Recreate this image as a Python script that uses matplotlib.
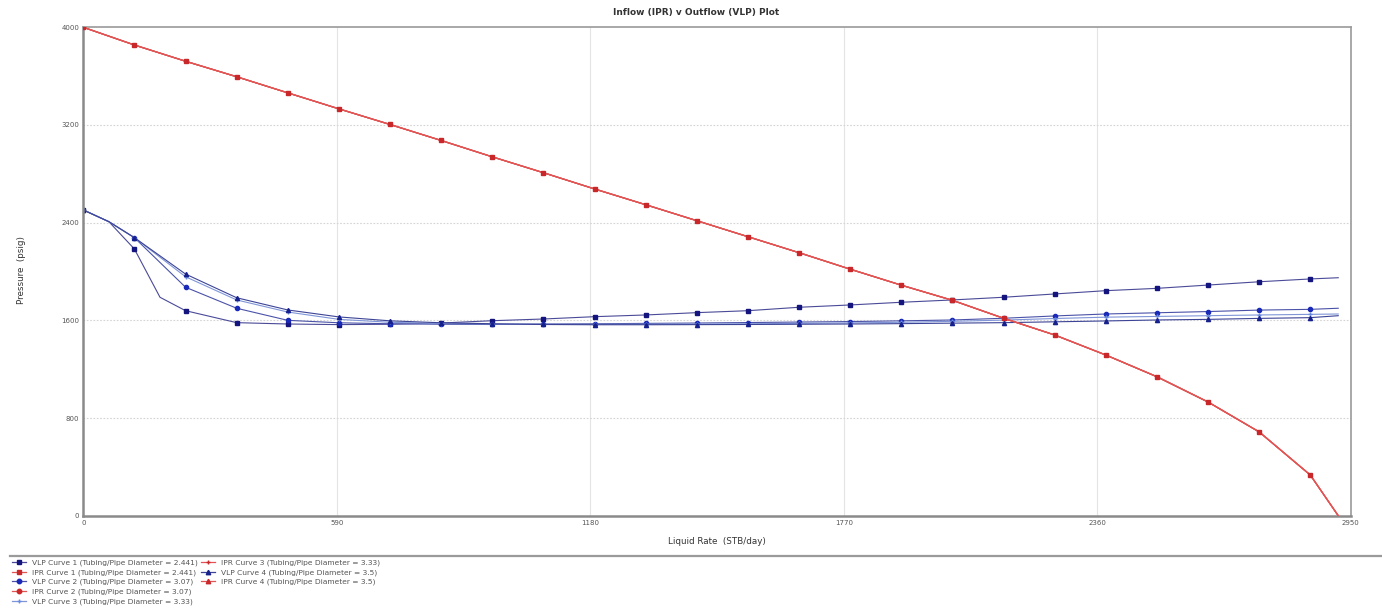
import matplotlib
matplotlib.use("Agg")
import matplotlib.pyplot as plt
from matplotlib.lines import Line2D

# ---------------- data ----------------
rates = [0, 119, 238, 357, 476, 595, 714, 833, 952, 1071, 1190, 1309, 1428,
         1547, 1666, 1785, 1904, 2023, 2142, 2261, 2380, 2499, 2618, 2737, 2856]
rate_end = 2921

ipr_p = [4000, 3855, 3722, 3595, 3463, 3332, 3204, 3073, 2939, 2809, 2676,
         2547, 2416, 2285, 2154, 2019, 1888, 1764, 1617, 1480, 1316, 1138,
         931, 686, 333]
ipr_end = 0

vlp1 = [2504, 2184, 1679, 1581, 1570, 1565, 1568, 1578, 1597, 1611, 1630,
        1644, 1663, 1679, 1707, 1726, 1748, 1767, 1789, 1816, 1843, 1862,
        1889, 1916, 1939]
vlp1_end = 1949
vlp2 = [2504, 2277, 1871, 1699, 1600, 1580, 1572, 1568, 1566, 1570, 1572,
        1575, 1578, 1582, 1586, 1590, 1596, 1603, 1617, 1636, 1652, 1662,
        1672, 1684, 1690]
vlp2_end = 1699
vlp3 = [2504, 2277, 1957, 1767, 1668, 1608, 1584, 1574, 1570, 1568, 1567,
        1568, 1570, 1572, 1575, 1579, 1584, 1592, 1602, 1615, 1626, 1632,
        1638, 1644, 1649]
vlp3_end = 1652
vlp4 = [2504, 2277, 1979, 1785, 1685, 1628, 1596, 1580, 1572, 1566, 1564,
        1564, 1565, 1566, 1568, 1570, 1573, 1577, 1581, 1588, 1595, 1603,
        1608, 1616, 1622]
vlp4_end = 1638

# extra line vertices (no markers) seen at half steps
half_x = 59.5
half_p = 2408
vlp1_kink_x = 178.5
vlp1_kink_p = 1789

diam = ["2.441", "3.07", "3.33", "3.5"]

title = "Inflow (IPR) v Outflow (VLP) Plot"
xlabel = "Liquid Rate  (STB/day)"
ylabel = "Pressure  (psig)"
xticks = [0, 590, 1180, 1770, 2360, 2950]
yticks = [0, 800, 1600, 2400, 3200, 4000]

# ---------------- figure ----------------
W, H = 1382, 614
fig = plt.figure(figsize=(W / 100, H / 100), dpi=100)
ax = fig.add_axes([83.3 / W, 1 - 515.7 / H, (1350.7 - 83.3) / W, (515.7 - 27.3) / H])

ax.set_xlim(0, 2950)
ax.set_ylim(0, 4000)
ax.set_xticks(xticks)
ax.set_yticks(yticks)
ax.set_xticklabels([str(t) for t in xticks])
ax.set_yticklabels([str(t) for t in yticks])
ax.tick_params(length=0, labelsize=5, labelcolor="#555555", pad=3)

for t in xticks[1:-1]:
    ax.axvline(t, color="#e4e4e4", lw=0.8, zorder=0)
for t in yticks[1:-1]:
    ax.axhline(t, color="#d4d4d4", lw=0.8, ls=(0, (1.5, 1.5)), zorder=0)

for s in ["left", "bottom"]:
    ax.spines[s].set_color("#8a8a8a")
    ax.spines[s].set_linewidth(1.8)
for s in ["top", "right"]:
    ax.spines[s].set_color("#9a9a9a")
    ax.spines[s].set_linewidth(1.2)


def build(vals, end, extra):
    pts = list(zip(rates, vals)) + [(rate_end, end)] + extra
    pts.sort(key=lambda p: p[0])
    xs = [p[0] for p in pts]
    ys = [p[1] for p in pts]
    mark_idx = [i for i, p in enumerate(pts) if p[0] in rates]
    return xs, ys, mark_idx


ms = 3.0
# IPR curves (identical) -- draw 4,3,2 underneath, 1 on top
ipr_styles = [("s", 3.4), ("o", 2.2), ("+", 2.2), ("^", 2.2)]
for k in [3, 2, 1, 0]:
    xs, ys, mi = build(ipr_p, ipr_end, [])
    mk, sz = ipr_styles[k]
    ax.plot(xs, ys, color="#e25555", lw=0.9, marker=mk, markevery=mi,
            ms=sz, mfc="#c8282a", mec="#c8282a", zorder=3 + (3 - k) * 0.1)

vlp_data = [(vlp1, vlp1_end, [(half_x, half_p), (vlp1_kink_x, vlp1_kink_p)]),
            (vlp2, vlp2_end, [(half_x, half_p)]),
            (vlp3, vlp3_end, [(half_x, half_p)]),
            (vlp4, vlp4_end, [(half_x, half_p)])]
vlp_line_colors = ["#4a4a98", "#4a52a8", "#7f95d8", "#3c4496"]
vlp_mark_colors = ["#14147e", "#1a2ab8", "#6a8ae0", "#16208c"]
vlp_markers = ["s", "o", "+", "^"]
for (vals, end, extra), lc, mc, mk in zip(vlp_data, vlp_line_colors, vlp_mark_colors, vlp_markers):
    xs, ys, mi = build(vals, end, extra)
    ax.plot(xs, ys, color=lc, lw=0.8, marker=mk, markevery=mi, ms=ms,
            mfc=mc, mec=mc, mew=1.0, zorder=2)

# ---------------- texts ----------------
fig.text(696 / W, 1 - 13 / H, title, ha="center", va="center",
         fontsize=6.5, fontweight="bold", color="#333333")
fig.text(717 / W, 1 - 541 / H, xlabel, ha="center", va="center",
         fontsize=6.3, color="#333333")
fig.text(22 / W, 1 - 270 / H, ylabel, ha="center", va="center",
         rotation=90, fontsize=6.3, color="#333333")

# separator line above legend
fig.add_artist(Line2D([10 / W, 1.0], [1 - 556 / H, 1 - 556 / H],
                      transform=fig.transFigure, color="#9a9a9a", lw=1.6))


def handle(color, mk, mcol):
    return Line2D([], [], color=color, lw=0.9, marker=mk, ms=3.2, mfc=mcol, mec=mcol)


h_v = [handle(lc, mk, mc) for lc, mk, mc in zip(vlp_line_colors, vlp_markers, vlp_mark_colors)]
h_i = [handle("#e25555", s[0], "#c8282a") for s in ipr_styles]
lab_v = [f"VLP Curve {i + 1} (Tubing/Pipe Diameter = {d})" for i, d in enumerate(diam)]
lab_i = [f"IPR Curve {i + 1} (Tubing/Pipe Diameter = {d})" for i, d in enumerate(diam)]

col1_h = [h_v[0], h_i[0], h_v[1], h_i[1], h_v[2]]
col1_l = [lab_v[0], lab_i[0], lab_v[1], lab_i[1], lab_v[2]]
col2_h = [h_i[2], h_v[3], h_i[3]]
col2_l = [lab_i[2], lab_v[3], lab_i[3]]

kw = dict(loc="upper left", frameon=False, fontsize=5.4, handlelength=1.9,
          handletextpad=0.8, borderpad=0, borderaxespad=0, labelspacing=0.38,
          labelcolor="#555555")
fig.legend(col1_h, col1_l, bbox_to_anchor=(12 / W, 1 - 559.5 / H), **kw)
fig.legend(col2_h, col2_l, bbox_to_anchor=(201 / W, 1 - 559.5 / H), **kw)

fig.savefig("out.png", dpi=100)
